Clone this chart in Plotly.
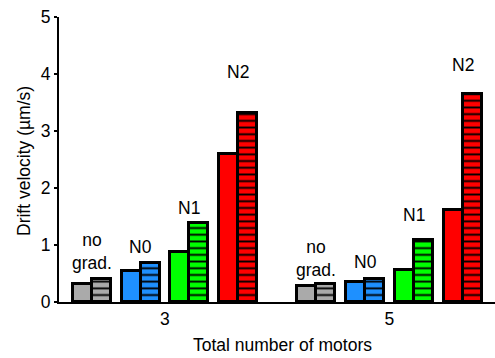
import plotly.graph_objects as go

# Drift velocity for each gradient condition, grouped by total number of motors
motors = [3, 5]
conditions = ["no grad.", "N0", "N1", "N2"]
colors = ["#aaaaaa", "#1e90ff", "#00ff00", "#ff0000"]
plain_values = {           # solid bars
    "no grad.": [0.32, 0.28],
    "N0": [0.55, 0.35],
    "N1": [0.88, 0.57],
    "N2": [2.59, 1.61],
}
striped_values = {         # horizontally striped bars
    "no grad.": [0.40, 0.32],
    "N0": [0.69, 0.41],
    "N1": [1.38, 1.08],
    "N2": [3.31, 3.65],
}
label_heights = {          # vertical placement of the condition labels
    "no grad.": [0.88, 0.77],
    "N0": [0.96, 0.70],
    "N1": [1.65, 1.53],
    "N2": [4.04, 4.16],
}

pair_step = 0.434
bar_w = 0.169
font = dict(family="Liberation Sans, Arial, sans-serif", size=17.5, color="black")

# plot area in pixels, used to place the axis titles
W, H = 495, 358
L, R, T, B = 59, 0, 17, 56
pw, ph = W - L - R, H - T - B

fig = go.Figure()
annotations = []
for i, cond in enumerate(conditions):
    off = (i - 1.5) * pair_step
    centers = [m + off for m in motors]
    fig.add_bar(
        x=[c - bar_w / 2 for c in centers], y=plain_values[cond], width=bar_w,
        marker=dict(color=colors[i], line=dict(color="black", width=3)),
        showlegend=False,
    )
    fig.add_bar(
        x=[c + bar_w / 2 for c in centers], y=striped_values[cond], width=bar_w,
        marker=dict(
            color=colors[i], line=dict(color="black", width=3),
            pattern=dict(shape="-", fgcolor="black", bgcolor=colors[i],
                         size=6.7, solidity=0.28, fillmode="replace"),
        ),
        showlegend=False,
    )
    text = "no<br>grad." if cond == "no grad." else cond
    for c, h in zip(centers, label_heights[cond]):
        annotations.append(dict(x=c, y=h, text=text, showarrow=False,
                                font=font, xref="x", yref="y"))

# axis titles
annotations.append(dict(
    x=(282 - L) / pw, y=-(345 - (H - B)) / ph, xref="paper", yref="paper",
    xanchor="center", yanchor="middle",
    text="Total number of motors", showarrow=False, font=font))
annotations.append(dict(
    x=(24 - L) / pw, y=((H - B) - 161) / ph, xref="paper", yref="paper",
    xanchor="center", yanchor="middle", textangle=-90,
    text="Drift velocity (µm/s)", showarrow=False, font=font))

fig.update_layout(
    width=W, height=H,
    margin=dict(l=L, r=R, t=T, b=B),
    paper_bgcolor="white", plot_bgcolor="white",
    barmode="overlay", bargap=0,
    font=font,
    annotations=annotations,
    xaxis=dict(range=[2.056, 5.94], tickvals=motors, ticktext=[str(m) for m in motors],
               showline=True, linecolor="black", linewidth=2, ticks="",
               showgrid=False, zeroline=False, tickfont=font),
    yaxis=dict(range=[0, 5], dtick=1, showline=True, linecolor="black", linewidth=2,
               ticks="outside", ticklen=3, tickwidth=1.5, tickcolor="black",
               showgrid=False, zeroline=False, tickfont=font),
)

fig.write_html("out.html")
